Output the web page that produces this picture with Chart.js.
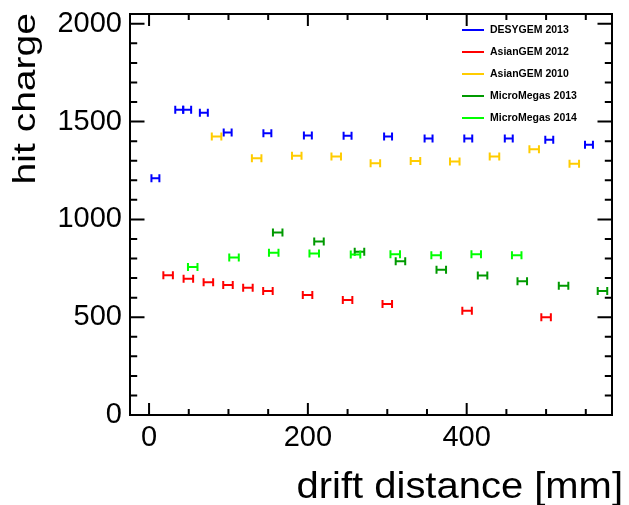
<!DOCTYPE html>
<html><head><meta charset="utf-8">
<script src="https://cdn.jsdelivr.net/npm/chart.js@4/dist/chart.umd.min.js"></script>
<style>html,body{margin:0;padding:0;background:#fff;}</style>
</head><body>
<canvas id="c" width="629" height="505"></canvas>
<script>
// ---- data ----
const xTickValues = [0, 200, 400];
const yTickValues = [0, 500, 1000, 1500, 2000];
const xTitle = "drift distance [mm]";
const yTitle = "hit charge";

const desyName = "DESYGEM 2013";
const desyX = [8, 38, 48, 69, 99, 149, 200, 250, 301, 352, 402, 453, 504, 554];
const desyY = [1210, 1560, 1560, 1545, 1444, 1441, 1429, 1427, 1424, 1413, 1413, 1413, 1407, 1381];
const desyErr = 5;

const asian12Name = "AsianGEM 2012";
const asian12X = [24, 49.5, 74.7, 99.4, 124.5, 149.7, 199.6, 250, 300, 400.5, 500];
const asian12Y = [714, 697, 679, 665, 651, 634, 614, 588, 568, 533, 500];
const asian12Err = 6;

const asian10Name = "AsianGEM 2010";
const asian10X = [85, 135.5, 186, 235.7, 285, 335.5, 385, 435, 485, 535.5];
const asian10Y = [1424, 1313, 1325, 1321, 1287, 1299, 1296, 1321, 1359, 1284];
const asian10Err = 6;

const mm13Name = "MicroMegas 2013";
const mm13X = [162, 214, 265, 316.6, 368, 420, 470, 522, 571];
const mm13Y = [933, 887, 834, 786, 743, 713, 684, 661, 634];
const mm13Err = 6;

const mm14Name = "MicroMegas 2014";
const mm14X = [55, 107, 157, 208, 260, 310, 361.5, 412, 463];
const mm14Y = [757, 805, 829, 825, 820, 822, 817, 822, 817];
const mm14Err = 6;

// ---- build ----
function mk(name, xs, ys, err, color) {
  return {
    label: name,
    data: xs.map((x, i) => ({x: x, y: ys[i]})),
    xErr: err,
    borderColor: color,
    backgroundColor: color,
    pointRadius: 0,
    showLine: false
  };
}
const datasets = [
  mk(desyName, desyX, desyY, desyErr, '#0000ff'),
  mk(asian12Name, asian12X, asian12Y, asian12Err, '#ff0000'),
  mk(asian10Name, asian10X, asian10Y, asian10Err, '#ffcc00'),
  mk(mm13Name, mm13X, mm13Y, mm13Err, '#009900'),
  mk(mm14Name, mm14X, mm14Y, mm14Err, '#00ff00')
];

const FONT = "'Liberation Sans', Arial, Helvetica, sans-serif";

const rootPlugin = {
  id: 'rootStyle',
  afterDatasetsDraw(chart) {
    const ctx = chart.ctx, xs = chart.scales.x, ys = chart.scales.y;
    ctx.save();
    ctx.lineWidth = 2;
    chart.data.datasets.forEach(ds => {
      ctx.strokeStyle = ds.borderColor;
      ds.data.forEach(p => {
        const x1 = xs.getPixelForValue(p.x - ds.xErr);
        const x2 = xs.getPixelForValue(p.x + ds.xErr);
        const y = ys.getPixelForValue(p.y);
        ctx.beginPath();
        ctx.moveTo(x1, y); ctx.lineTo(x2, y);
        ctx.moveTo(x1, y - 4); ctx.lineTo(x1, y + 4);
        ctx.moveTo(x2, y - 4); ctx.lineTo(x2, y + 4);
        ctx.stroke();
      });
    });
    ctx.restore();
  },
  afterDraw(chart) {
    const ctx = chart.ctx, xs = chart.scales.x, ys = chart.scales.y;
    const a = chart.chartArea;
    ctx.save();
    ctx.strokeStyle = '#000';
    ctx.lineWidth = 2;
    ctx.strokeRect(a.left, a.top, a.right - a.left, a.bottom - a.top);
    ctx.beginPath();
    // x ticks (bottom & top)
    for (let v = -50; v <= xs.max; v += 50) {
      if (v < xs.min) continue;
      const px = xs.getPixelForValue(v);
      const L = (v % 200 === 0) ? 12 : 6;
      ctx.moveTo(px, a.bottom); ctx.lineTo(px, a.bottom - L);
      ctx.moveTo(px, a.top); ctx.lineTo(px, a.top + L);
    }
    // y ticks (left & right)
    for (let v = 0; v <= ys.max; v += 100) {
      const py = ys.getPixelForValue(v);
      const L = (v % 500 === 0) ? 14.5 : 7.2;
      ctx.moveTo(a.left, py); ctx.lineTo(a.left + L, py);
      ctx.moveTo(a.right, py); ctx.lineTo(a.right - L, py);
    }
    ctx.stroke();

    // legend
    const rows = [30, 52, 74, 96, 118];
    ctx.font = 'bold 10.5px ' + FONT;
    ctx.textBaseline = 'middle';
    ctx.textAlign = 'left';
    chart.data.datasets.forEach((ds, i) => {
      ctx.strokeStyle = ds.borderColor;
      ctx.lineWidth = 2;
      ctx.beginPath();
      ctx.moveTo(462, rows[i]); ctx.lineTo(484, rows[i]);
      ctx.stroke();
      ctx.fillStyle = '#000';
      ctx.fillText(ds.label, 490, rows[i] + 0.5);
    });

    // axis titles
    ctx.fillStyle = '#000';
    ctx.textBaseline = 'alphabetic';
    ctx.font = '36px ' + FONT;
    ctx.save();
    ctx.translate(623, 498);
    ctx.scale(1.11, 1);
    ctx.textAlign = 'right';
    ctx.fillText(xTitle, 0, 0);
    ctx.restore();

    ctx.save();
    ctx.font = '32px ' + FONT;
    ctx.translate(35, 13);
    ctx.rotate(-Math.PI / 2);
    ctx.scale(1.22, 1);
    ctx.textAlign = 'right';
    ctx.fillText(yTitle, 0, 0);
    ctx.restore();
    ctx.restore();
  }
};

new Chart(document.getElementById('c'), {
  type: 'scatter',
  data: {datasets: datasets},
  options: {
    responsive: false,
    animation: false,
    devicePixelRatio: 1,
    layout: {padding: {left: 0, right: 17, top: 14, bottom: 0}},
    plugins: {legend: {display: false}, tooltip: {enabled: false}},
    scales: {
      x: {
        type: 'linear', min: -24, max: 583,
        afterBuildTicks: s => { s.ticks = xTickValues.map(v => ({value: v})); },
        afterFit: s => { s.height = 90; s.paddingLeft = 0; s.paddingRight = 0; },
        grid: {display: false, drawTicks: false},
        border: {display: false},
        ticks: {font: {family: FONT, size: 29}, color: '#000', padding: 6, maxRotation: 0, autoSkip: false,
                callback: v => String(v)}
      },
      y: {
        type: 'linear', min: 0, max: 2050,
        afterBuildTicks: s => { s.ticks = yTickValues.map(v => ({value: v})); },
        afterFit: s => { s.width = 130; s.paddingTop = 0; s.paddingBottom = 0; },
        grid: {display: false, drawTicks: false},
        border: {display: false},
        ticks: {font: {family: FONT, size: 29}, color: '#000', padding: 8, autoSkip: false,
                callback: v => String(v)}
      }
    }
  },
  plugins: [rootPlugin]
});
</script>
</body></html>
